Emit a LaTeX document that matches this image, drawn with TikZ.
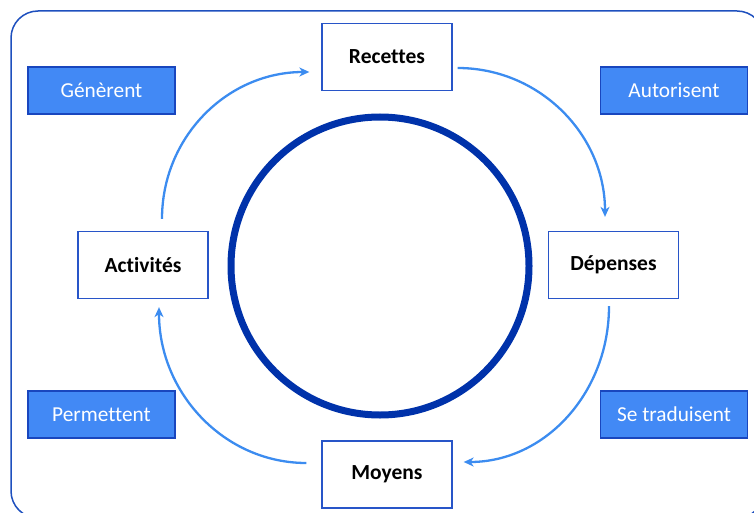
\documentclass[tikz,border=0pt]{standalone}
\usepackage{fontspec}
\setmainfont[Ligatures=NoCommon]{Carlito}
\usetikzlibrary{arrows.meta}
\definecolor{framecol}{RGB}{30,80,190}
\definecolor{boxcol}{RGB}{40,85,200}
\definecolor{labfill}{RGB}{66,137,245}
\definecolor{labdraw}{RGB}{25,70,190}
\definecolor{arrcol}{RGB}{60,140,240}
\definecolor{circcol}{RGB}{0,50,170}
\tikzset{
  stepbox/.style={draw=boxcol, line width=1.3pt, fill=white, minimum width=130pt, minimum height=67pt, inner sep=0pt, font=\fontsize{21.5}{24}\selectfont\bfseries, text=black},
  labbox/.style={draw=labdraw, line width=1.3pt, fill=labfill, minimum width=147pt, minimum height=47pt, inner sep=0pt, font=\fontsize{21.3}{24}\selectfont, text=white},
  flow/.style={draw=arrcol, line width=2.3pt, -{Stealth[length=10pt,width=9pt,inset=3pt]}}
}
\begin{document}
\begin{tikzpicture}[x=1pt,y=-1pt]
\useasboundingbox (0,0) rectangle (754,513);
\clip (0,0) rectangle (754,513);
\draw[framecol, line width=1.5pt, rounded corners=27pt] (11,11) rectangle (764,518);
\draw[circcol, line width=7pt] (380,266) circle[radius=149];
\node[stepbox] (rec) at (387,57) {Recettes};
\node[stepbox] (dep) at (613.5,265) {Dépenses};
\node[stepbox] (act) at (143,265) {Activités};
\node[stepbox] (moy) at (387,474.5) {Moyens};
\node[labbox] (gen) at (101.5,90.5) {Génèrent};
\node[labbox] (aut) at (674,90.5) {Autorisent};
\node[labbox] (per) at (101.5,414.5) {Permettent};
\node[labbox] (tra) at (674,414.5) {Se traduisent};
\draw[flow] ([xshift=19pt,yshift=12pt]act.north) .. controls +(0,-82) and +(-82,0) .. ([xshift=-12pt,yshift=-15pt]rec.west);
\draw[flow] ([xshift=5pt,yshift=-11pt]rec.east) .. controls +(82,0) and +(0,-82) .. ([xshift=-8.5pt,yshift=14pt]dep.north);
\draw[flow] ([xshift=-4.5pt,yshift=-7pt]dep.south) .. controls +(0,86) and +(82,0) .. ([xshift=11pt,yshift=12.5pt]moy.east);
\draw[flow] ([xshift=-15pt,yshift=11.5pt]moy.west) .. controls +(-82,0) and +(0,86) .. ([xshift=16pt,yshift=-8pt]act.south);
\end{tikzpicture}
\end{document}
